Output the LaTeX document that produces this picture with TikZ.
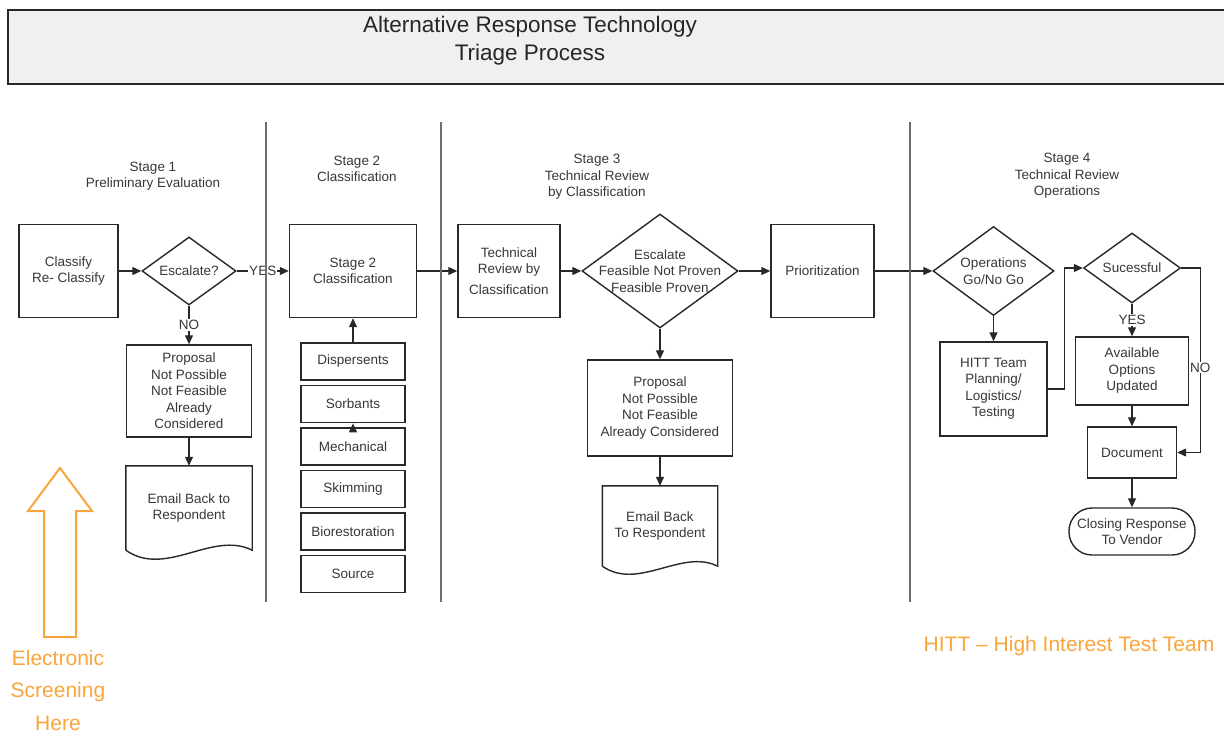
\documentclass[tikz,border=0pt]{standalone}
\usepackage{fontspec}
\setmainfont{Liberation Sans}
\usetikzlibrary{shapes.geometric,arrows.meta}

\definecolor{linegray}{RGB}{40,40,40}
\definecolor{sepgray}{RGB}{110,110,110}
\definecolor{txtgray}{RGB}{55,55,55}
\definecolor{titlefill}{RGB}{240,240,240}
\definecolor{screenorange}{RGB}{250,165,60}

\begin{document}
\begin{tikzpicture}[x=1pt,y=-1pt,
  every node/.style={font=\fontsize{13.5}{16.5}\selectfont, text=txtgray, align=center},
  box/.style={draw=linegray, line width=1.4pt, fill=white, inner sep=0pt},
  itembox/.style={box, line width=1.8pt, minimum width=104pt, minimum height=37pt},
  decision/.style={diamond, draw=linegray, line width=1.4pt, inner sep=0pt},
  flow/.style={-{Triangle[length=9pt,width=8pt]}, draw=linegray, line width=1.2pt},
  answer/.style={fill=white, inner sep=1pt},
  sepline/.style={draw=sepgray, line width=2.2pt},
  docline/.style={draw=linegray, line width=1.4pt}
]
\useasboundingbox (0,0) rectangle (1224,736);

% title
\fill[titlefill] (8,10) rectangle (1224,84);
\draw[linegray, line width=1.5pt] (1224,10) -- (8,10) -- (8,84) -- (1224,84);
\node[font=\fontsize{22.5}{28}\selectfont, text=black!85] (title) at (530,41) {Alternative Response Technology\\Triage Process};

% stage headings
\node (head1) at (153,176) {Stage 1\\Preliminary Evaluation};
\node (head2) at (357,169) {Stage 2\\Classification};
\node (head3) at (597,177) {Stage 3\\Technical Review\\by Classification};
\node (head4) at (1067,176) {Stage 4\\Technical Review\\Operations};

% stage 1
\node[box, minimum width=99pt, minimum height=93pt] (classify) at (68.5,271) {Classify\\Re- Classify};
\node[decision, minimum width=94pt, minimum height=68pt] (esc1) at (189,271) {};
\node (esc1txt) at (esc1) {Escalate?};
\node[box, minimum width=125pt, minimum height=92pt] (prop1) at (189,391) {Proposal\\Not Possible\\Not Feasible\\Already\\Considered};
\node[minimum width=126pt, minimum height=84pt, inner sep=0pt] (mail1) at (189,508) {Email Back to\\Respondent};
\draw[docline] (mail1.south west) -- (mail1.north west) -- (mail1.north east) -- (mail1.south east)
  .. controls +(-40,-20) and +(40,28) .. (mail1.south west);

% stage 2
\node[box, minimum width=127pt, minimum height=93pt] (stage2) at (353,271) {Stage 2\\Classification};
\node[itembox] (disp) at (353,361.5) {Dispersents};
\node[itembox] (sorb) at (353,404) {Sorbants};
\node[itembox] (mech) at (353,446.5) {Mechanical};
\node[itembox] (skim) at (353,489) {Skimming};
\node[itembox] (bio) at (353,531.5) {Biorestoration};
\node[itembox] (source) at (353,574) {Source};

% stage 3
\node[box, minimum width=102pt, minimum height=93pt] (techrev) at (509,271) {Technical\\Review by\\[4pt]Classification};
\node[decision, minimum width=156pt, minimum height=114pt] (esc2) at (660,271) {};
\node (esc2txt) at (esc2) {Escalate\\Feasible Not Proven\\Feasible Proven};
\node[box, minimum width=103pt, minimum height=93pt] (prio) at (822.5,271) {Prioritization};
\node[box, minimum width=145pt, minimum height=96pt] (prop2) at (660,408) {Proposal\\Not Possible\\Not Feasible\\Already Considered};
\node[minimum width=115pt, minimum height=80pt, inner sep=0pt] (mail2) at (660,526) {Email Back\\To Respondent};
\draw[docline] (mail2.south west) -- (mail2.north west) -- (mail2.north east) -- (mail2.south east)
  .. controls +(-36,-18) and +(36,25) .. (mail2.south west);

% stage 4
\node[decision, minimum width=121pt, minimum height=89pt] (ops) at (993.5,271) {};
\node (opstxt) at (ops) {Operations\\Go/No Go};
\node[box, minimum width=107pt, minimum height=94pt] (hitt) at (993.5,389) {HITT Team\\Planning/\\Logistics/\\Testing};
\node[decision, minimum width=97pt, minimum height=70pt] (succ) at (1132,268) {};
\node (succtxt) at (succ) {Sucessful};
\node[box, minimum width=113pt, minimum height=68pt] (avail) at (1132,371) {Available\\Options\\Updated};
\node[box, minimum width=89pt, minimum height=51pt] (docu) at (1132,452.5) {Document};
\node[box, rounded corners=23pt, minimum width=126pt, minimum height=47pt] (closing) at (1132,531.5) {Closing Response\\To Vendor};

% connectors
\draw[flow] (classify.east) -- (esc1.west);
\draw[flow] (esc1.east) -- node[answer] {YES} (stage2.west);
\draw[flow] (esc1.south) -- node[answer] {NO} (prop1.north);
\draw[flow] (prop1) -- (mail1);
\draw[flow] (stage2) -- (techrev);
\draw[flow] (disp) -- (stage2);
\draw[flow] (mech) -- (sorb);
\draw[flow] (techrev) -- (esc2);
\draw[flow] (esc2) -- (prio);
\draw[flow] (esc2) -- (prop2);
\draw[flow] (prop2) -- (mail2);
\draw[flow] (prio) -- (ops);
\draw[flow] (ops) -- (hitt);
\draw[flow] (hitt.east) -- ++(17,0) |- (succ.west);
\draw[flow] (succ) -- node[answer] {YES} (avail);
\draw[flow] (succ.east) -- ++(19,0) |- node[answer, pos=0.27] {NO} (docu.east);
\draw[flow] (avail) -- (docu);
\draw[flow] (docu) -- (closing);

% stage separators
\draw[sepline] (266,122) -- (266,602);
\draw[sepline] (441,122) -- (441,602);
\draw[sepline] (910,122) -- (910,602);

% electronic screening
\draw[screenorange, line width=2pt, line join=miter] (60,468) -- (92,511) -- (76,511) -- (76,637)
  -- (44,637) -- (44,511) -- (28,511) -- cycle;
\node[font=\fontsize{21}{32.5}\selectfont, text=screenorange] (screening) at (58,690) {Electronic\\Screening\\Here};
\node[font=\fontsize{21}{25}\selectfont, text=screenorange] (hittnote) at (1069,646) {HITT -- High Interest Test Team};
\end{tikzpicture}
\end{document}
